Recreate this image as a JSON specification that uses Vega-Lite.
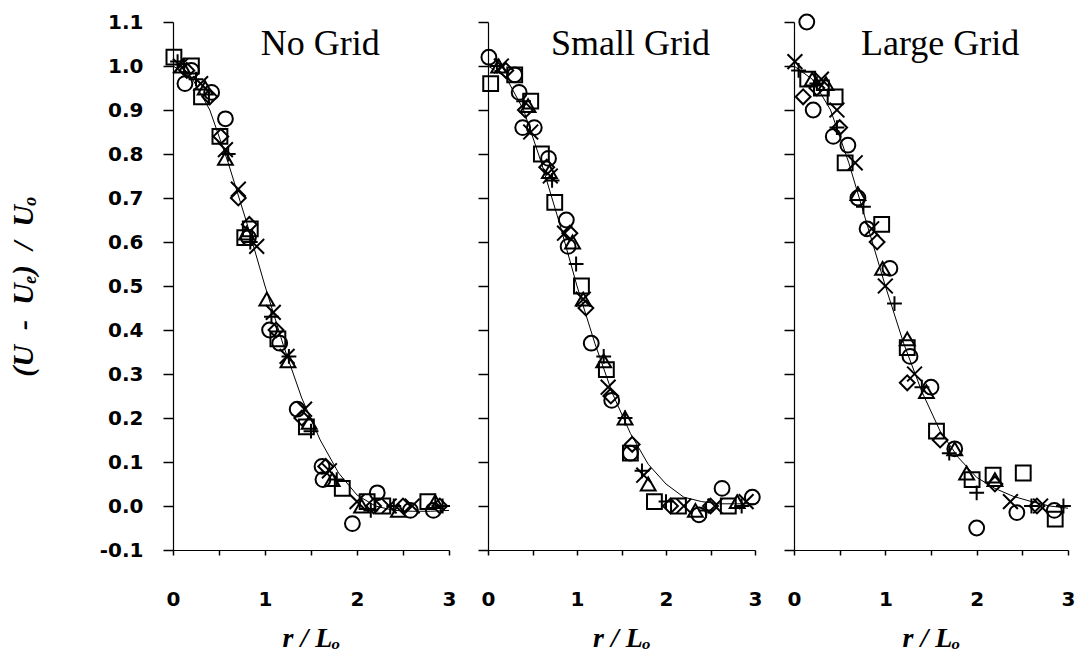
{
  "$schema": "https://vega.github.io/schema/vega-lite/v6.json",
  "background": "white",
  "padding": {"left": 8, "top": 10, "right": 0, "bottom": 2},
  "bounds": "flush",
  "spacing": 39,
  "config": {
    "view": {"stroke": null},
    "axis": {
      "grid": false,
      "domainColor": "black",
      "domainWidth": 1.2,
      "tickColor": "black",
      "tickWidth": 1.5,
      "labelColor": "black",
      "titleColor": "black",
      "labelFont": "DejaVu Sans",
      "labelFontWeight": "bold",
      "labelFontSize": 20,
      "titleFont": "Liberation Serif, DejaVu Serif, serif",
      "titleFontStyle": "italic",
      "titleFontWeight": "bold"
    }
  },
  "datasets": {
    "pts": [
      {"panel": "No Grid", "series": "circle", "r": 0.13, "v": 0.96},
      {"panel": "No Grid", "series": "circle", "r": 0.2, "v": 0.99},
      {"panel": "No Grid", "series": "circle", "r": 0.42, "v": 0.94},
      {"panel": "No Grid", "series": "circle", "r": 0.57, "v": 0.88},
      {"panel": "No Grid", "series": "circle", "r": 0.82, "v": 0.61},
      {"panel": "No Grid", "series": "circle", "r": 1.05, "v": 0.40},
      {"panel": "No Grid", "series": "circle", "r": 1.16, "v": 0.37},
      {"panel": "No Grid", "series": "circle", "r": 1.35, "v": 0.22},
      {"panel": "No Grid", "series": "circle", "r": 1.62, "v": 0.09},
      {"panel": "No Grid", "series": "circle", "r": 1.63, "v": 0.06},
      {"panel": "No Grid", "series": "circle", "r": 1.95, "v": -0.04},
      {"panel": "No Grid", "series": "circle", "r": 2.22, "v": 0.03},
      {"panel": "No Grid", "series": "circle", "r": 2.58, "v": -0.01},
      {"panel": "No Grid", "series": "circle", "r": 2.83, "v": -0.01},
      {"panel": "No Grid", "series": "square", "r": 0.01, "v": 1.02},
      {"panel": "No Grid", "series": "square", "r": 0.2, "v": 1.0},
      {"panel": "No Grid", "series": "square", "r": 0.31, "v": 0.93},
      {"panel": "No Grid", "series": "square", "r": 0.51, "v": 0.84},
      {"panel": "No Grid", "series": "square", "r": 0.78, "v": 0.61},
      {"panel": "No Grid", "series": "square", "r": 0.84, "v": 0.63},
      {"panel": "No Grid", "series": "square", "r": 1.14, "v": 0.38},
      {"panel": "No Grid", "series": "square", "r": 1.45, "v": 0.18},
      {"panel": "No Grid", "series": "square", "r": 1.84, "v": 0.04},
      {"panel": "No Grid", "series": "square", "r": 2.11, "v": 0.01},
      {"panel": "No Grid", "series": "square", "r": 2.28, "v": 0.0},
      {"panel": "No Grid", "series": "square", "r": 2.77, "v": 0.01},
      {"panel": "No Grid", "series": "triangle", "r": 0.1, "v": 1.0},
      {"panel": "No Grid", "series": "triangle", "r": 0.35, "v": 0.95},
      {"panel": "No Grid", "series": "triangle", "r": 0.57, "v": 0.79},
      {"panel": "No Grid", "series": "triangle", "r": 0.8, "v": 0.62},
      {"panel": "No Grid", "series": "triangle", "r": 1.02, "v": 0.47},
      {"panel": "No Grid", "series": "triangle", "r": 1.25, "v": 0.33},
      {"panel": "No Grid", "series": "triangle", "r": 1.48, "v": 0.19},
      {"panel": "No Grid", "series": "triangle", "r": 1.73, "v": 0.06},
      {"panel": "No Grid", "series": "triangle", "r": 2.05, "v": 0.0},
      {"panel": "No Grid", "series": "triangle", "r": 2.45, "v": -0.01},
      {"panel": "No Grid", "series": "triangle", "r": 2.85, "v": 0.01},
      {"panel": "No Grid", "series": "diamond", "r": 0.15, "v": 0.99},
      {"panel": "No Grid", "series": "diamond", "r": 0.4, "v": 0.93},
      {"panel": "No Grid", "series": "diamond", "r": 0.52, "v": 0.84},
      {"panel": "No Grid", "series": "diamond", "r": 0.71, "v": 0.70},
      {"panel": "No Grid", "series": "diamond", "r": 0.83, "v": 0.64},
      {"panel": "No Grid", "series": "diamond", "r": 1.12, "v": 0.40},
      {"panel": "No Grid", "series": "diamond", "r": 1.4, "v": 0.20},
      {"panel": "No Grid", "series": "diamond", "r": 1.66, "v": 0.09},
      {"panel": "No Grid", "series": "diamond", "r": 2.18, "v": 0.0},
      {"panel": "No Grid", "series": "diamond", "r": 2.5, "v": 0.0},
      {"panel": "No Grid", "series": "diamond", "r": 2.9, "v": 0.0},
      {"panel": "No Grid", "series": "x", "r": 0.08, "v": 1.0},
      {"panel": "No Grid", "series": "x", "r": 0.3, "v": 0.96},
      {"panel": "No Grid", "series": "x", "r": 0.57, "v": 0.81},
      {"panel": "No Grid", "series": "x", "r": 0.71, "v": 0.72},
      {"panel": "No Grid", "series": "x", "r": 0.91, "v": 0.59},
      {"panel": "No Grid", "series": "x", "r": 1.09, "v": 0.44},
      {"panel": "No Grid", "series": "x", "r": 1.24, "v": 0.34},
      {"panel": "No Grid", "series": "x", "r": 1.43, "v": 0.22},
      {"panel": "No Grid", "series": "x", "r": 1.7, "v": 0.08},
      {"panel": "No Grid", "series": "x", "r": 2.0, "v": 0.01},
      {"panel": "No Grid", "series": "x", "r": 2.35, "v": 0.0},
      {"panel": "No Grid", "series": "x", "r": 2.6, "v": 0.0},
      {"panel": "No Grid", "series": "plus", "r": 0.05, "v": 1.01},
      {"panel": "No Grid", "series": "plus", "r": 0.25, "v": 0.97},
      {"panel": "No Grid", "series": "plus", "r": 0.6, "v": 0.80},
      {"panel": "No Grid", "series": "plus", "r": 0.84, "v": 0.60},
      {"panel": "No Grid", "series": "plus", "r": 1.07, "v": 0.43},
      {"panel": "No Grid", "series": "plus", "r": 1.26, "v": 0.34},
      {"panel": "No Grid", "series": "plus", "r": 1.5, "v": 0.17},
      {"panel": "No Grid", "series": "plus", "r": 1.78, "v": 0.06},
      {"panel": "No Grid", "series": "plus", "r": 2.15, "v": -0.01},
      {"panel": "No Grid", "series": "plus", "r": 2.4, "v": 0.0},
      {"panel": "No Grid", "series": "plus", "r": 2.93, "v": 0.0},

      {"panel": "Small Grid", "series": "circle", "r": 0.01, "v": 1.02},
      {"panel": "Small Grid", "series": "circle", "r": 0.3, "v": 0.98},
      {"panel": "Small Grid", "series": "circle", "r": 0.35, "v": 0.94},
      {"panel": "Small Grid", "series": "circle", "r": 0.39, "v": 0.86},
      {"panel": "Small Grid", "series": "circle", "r": 0.52, "v": 0.86},
      {"panel": "Small Grid", "series": "circle", "r": 0.68, "v": 0.79},
      {"panel": "Small Grid", "series": "circle", "r": 0.88, "v": 0.65},
      {"panel": "Small Grid", "series": "circle", "r": 0.9, "v": 0.59},
      {"panel": "Small Grid", "series": "circle", "r": 1.16, "v": 0.37},
      {"panel": "Small Grid", "series": "circle", "r": 1.39, "v": 0.24},
      {"panel": "Small Grid", "series": "circle", "r": 1.6, "v": 0.12},
      {"panel": "Small Grid", "series": "circle", "r": 2.37, "v": -0.02},
      {"panel": "Small Grid", "series": "circle", "r": 2.63, "v": 0.04},
      {"panel": "Small Grid", "series": "circle", "r": 2.97, "v": 0.02},
      {"panel": "Small Grid", "series": "square", "r": 0.03, "v": 0.96},
      {"panel": "Small Grid", "series": "square", "r": 0.3, "v": 0.98},
      {"panel": "Small Grid", "series": "square", "r": 0.48, "v": 0.92},
      {"panel": "Small Grid", "series": "square", "r": 0.6, "v": 0.80},
      {"panel": "Small Grid", "series": "square", "r": 0.75, "v": 0.69},
      {"panel": "Small Grid", "series": "square", "r": 1.05, "v": 0.50},
      {"panel": "Small Grid", "series": "square", "r": 1.33, "v": 0.31},
      {"panel": "Small Grid", "series": "square", "r": 1.6, "v": 0.12},
      {"panel": "Small Grid", "series": "square", "r": 1.87, "v": 0.01},
      {"panel": "Small Grid", "series": "square", "r": 2.14, "v": 0.0},
      {"panel": "Small Grid", "series": "square", "r": 2.7, "v": 0.0},
      {"panel": "Small Grid", "series": "triangle", "r": 0.12, "v": 1.0},
      {"panel": "Small Grid", "series": "triangle", "r": 0.45, "v": 0.91},
      {"panel": "Small Grid", "series": "triangle", "r": 0.69, "v": 0.76},
      {"panel": "Small Grid", "series": "triangle", "r": 0.95, "v": 0.60},
      {"panel": "Small Grid", "series": "triangle", "r": 1.07, "v": 0.47},
      {"panel": "Small Grid", "series": "triangle", "r": 1.3, "v": 0.33},
      {"panel": "Small Grid", "series": "triangle", "r": 1.54, "v": 0.20},
      {"panel": "Small Grid", "series": "triangle", "r": 1.8, "v": 0.05},
      {"panel": "Small Grid", "series": "triangle", "r": 2.33, "v": -0.01},
      {"panel": "Small Grid", "series": "triangle", "r": 2.8, "v": 0.01},
      {"panel": "Small Grid", "series": "diamond", "r": 0.2, "v": 0.99},
      {"panel": "Small Grid", "series": "diamond", "r": 0.42, "v": 0.90},
      {"panel": "Small Grid", "series": "diamond", "r": 0.66, "v": 0.77},
      {"panel": "Small Grid", "series": "diamond", "r": 0.92, "v": 0.62},
      {"panel": "Small Grid", "series": "diamond", "r": 1.1, "v": 0.45},
      {"panel": "Small Grid", "series": "diamond", "r": 1.38, "v": 0.25},
      {"panel": "Small Grid", "series": "diamond", "r": 1.62, "v": 0.14},
      {"panel": "Small Grid", "series": "diamond", "r": 2.05, "v": 0.0},
      {"panel": "Small Grid", "series": "diamond", "r": 2.5, "v": 0.0},
      {"panel": "Small Grid", "series": "x", "r": 0.15, "v": 1.0},
      {"panel": "Small Grid", "series": "x", "r": 0.48, "v": 0.85},
      {"panel": "Small Grid", "series": "x", "r": 0.7, "v": 0.75},
      {"panel": "Small Grid", "series": "x", "r": 0.86, "v": 0.62},
      {"panel": "Small Grid", "series": "x", "r": 1.07, "v": 0.47},
      {"panel": "Small Grid", "series": "x", "r": 1.35, "v": 0.27},
      {"panel": "Small Grid", "series": "x", "r": 1.75, "v": 0.07},
      {"panel": "Small Grid", "series": "x", "r": 2.2, "v": 0.0},
      {"panel": "Small Grid", "series": "x", "r": 2.55, "v": 0.0},
      {"panel": "Small Grid", "series": "x", "r": 2.9, "v": 0.01},
      {"panel": "Small Grid", "series": "plus", "r": 0.1, "v": 1.0},
      {"panel": "Small Grid", "series": "plus", "r": 0.4, "v": 0.92},
      {"panel": "Small Grid", "series": "plus", "r": 0.72, "v": 0.74},
      {"panel": "Small Grid", "series": "plus", "r": 0.99, "v": 0.55},
      {"panel": "Small Grid", "series": "plus", "r": 1.3, "v": 0.34},
      {"panel": "Small Grid", "series": "plus", "r": 1.54, "v": 0.20},
      {"panel": "Small Grid", "series": "plus", "r": 1.73, "v": 0.08},
      {"panel": "Small Grid", "series": "plus", "r": 2.0, "v": 0.01},
      {"panel": "Small Grid", "series": "plus", "r": 2.45, "v": -0.01},
      {"panel": "Small Grid", "series": "plus", "r": 2.85, "v": 0.0},

      {"panel": "Large Grid", "series": "circle", "r": 0.14, "v": 1.1},
      {"panel": "Large Grid", "series": "circle", "r": 0.21, "v": 0.90},
      {"panel": "Large Grid", "series": "circle", "r": 0.43, "v": 0.84},
      {"panel": "Large Grid", "series": "circle", "r": 0.59, "v": 0.82},
      {"panel": "Large Grid", "series": "circle", "r": 0.7, "v": 0.70},
      {"panel": "Large Grid", "series": "circle", "r": 0.8, "v": 0.63},
      {"panel": "Large Grid", "series": "circle", "r": 1.05, "v": 0.54},
      {"panel": "Large Grid", "series": "circle", "r": 1.27, "v": 0.34},
      {"panel": "Large Grid", "series": "circle", "r": 1.5, "v": 0.27},
      {"panel": "Large Grid", "series": "circle", "r": 1.76, "v": 0.13},
      {"panel": "Large Grid", "series": "circle", "r": 2.0, "v": -0.05},
      {"panel": "Large Grid", "series": "circle", "r": 2.44, "v": -0.015},
      {"panel": "Large Grid", "series": "circle", "r": 2.85, "v": -0.01},
      {"panel": "Large Grid", "series": "square", "r": 0.15, "v": 0.97},
      {"panel": "Large Grid", "series": "square", "r": 0.3, "v": 0.95},
      {"panel": "Large Grid", "series": "square", "r": 0.45, "v": 0.93},
      {"panel": "Large Grid", "series": "square", "r": 0.56, "v": 0.78},
      {"panel": "Large Grid", "series": "square", "r": 0.96, "v": 0.64},
      {"panel": "Large Grid", "series": "square", "r": 1.24, "v": 0.36},
      {"panel": "Large Grid", "series": "square", "r": 1.56, "v": 0.17},
      {"panel": "Large Grid", "series": "square", "r": 1.95, "v": 0.06},
      {"panel": "Large Grid", "series": "square", "r": 2.18, "v": 0.07},
      {"panel": "Large Grid", "series": "square", "r": 2.51, "v": 0.075},
      {"panel": "Large Grid", "series": "square", "r": 2.86, "v": -0.03},
      {"panel": "Large Grid", "series": "triangle", "r": 0.2, "v": 0.97},
      {"panel": "Large Grid", "series": "triangle", "r": 0.35, "v": 0.96},
      {"panel": "Large Grid", "series": "triangle", "r": 0.7, "v": 0.71},
      {"panel": "Large Grid", "series": "triangle", "r": 0.97, "v": 0.54},
      {"panel": "Large Grid", "series": "triangle", "r": 1.24, "v": 0.38},
      {"panel": "Large Grid", "series": "triangle", "r": 1.45, "v": 0.26},
      {"panel": "Large Grid", "series": "triangle", "r": 1.76, "v": 0.13},
      {"panel": "Large Grid", "series": "triangle", "r": 1.89, "v": 0.075},
      {"panel": "Large Grid", "series": "triangle", "r": 2.2, "v": 0.06},
      {"panel": "Large Grid", "series": "diamond", "r": 0.1, "v": 0.93},
      {"panel": "Large Grid", "series": "diamond", "r": 0.25, "v": 0.95},
      {"panel": "Large Grid", "series": "diamond", "r": 0.5, "v": 0.86},
      {"panel": "Large Grid", "series": "diamond", "r": 0.91, "v": 0.60},
      {"panel": "Large Grid", "series": "diamond", "r": 1.24, "v": 0.28},
      {"panel": "Large Grid", "series": "diamond", "r": 1.6, "v": 0.15},
      {"panel": "Large Grid", "series": "diamond", "r": 2.2, "v": 0.05},
      {"panel": "Large Grid", "series": "diamond", "r": 2.66, "v": 0.0},
      {"panel": "Large Grid", "series": "x", "r": 0.01, "v": 1.01},
      {"panel": "Large Grid", "series": "x", "r": 0.3, "v": 0.97},
      {"panel": "Large Grid", "series": "x", "r": 0.47, "v": 0.90},
      {"panel": "Large Grid", "series": "x", "r": 0.67, "v": 0.78},
      {"panel": "Large Grid", "series": "x", "r": 0.85, "v": 0.63},
      {"panel": "Large Grid", "series": "x", "r": 1.0, "v": 0.50},
      {"panel": "Large Grid", "series": "x", "r": 1.32, "v": 0.30},
      {"panel": "Large Grid", "series": "x", "r": 2.37, "v": 0.01},
      {"panel": "Large Grid", "series": "x", "r": 2.7, "v": 0.0},
      {"panel": "Large Grid", "series": "plus", "r": 0.05, "v": 0.99},
      {"panel": "Large Grid", "series": "plus", "r": 0.25, "v": 0.96},
      {"panel": "Large Grid", "series": "plus", "r": 0.47, "v": 0.86},
      {"panel": "Large Grid", "series": "plus", "r": 0.76, "v": 0.68},
      {"panel": "Large Grid", "series": "plus", "r": 1.1, "v": 0.46},
      {"panel": "Large Grid", "series": "plus", "r": 1.4, "v": 0.27},
      {"panel": "Large Grid", "series": "plus", "r": 1.7, "v": 0.12},
      {"panel": "Large Grid", "series": "plus", "r": 2.0, "v": 0.03},
      {"panel": "Large Grid", "series": "plus", "r": 2.6, "v": 0.0},
      {"panel": "Large Grid", "series": "plus", "r": 2.95, "v": 0.0}
    ],
    "fit": [
      {"panel": "No Grid", "r": 0.0, "v": 1.0},
      {"panel": "No Grid", "r": 0.2, "v": 0.975},
      {"panel": "No Grid", "r": 0.4, "v": 0.9},
      {"panel": "No Grid", "r": 0.6, "v": 0.78},
      {"panel": "No Grid", "r": 0.8, "v": 0.645},
      {"panel": "No Grid", "r": 1.0, "v": 0.5},
      {"panel": "No Grid", "r": 1.2, "v": 0.365},
      {"panel": "No Grid", "r": 1.4, "v": 0.245},
      {"panel": "No Grid", "r": 1.6, "v": 0.15},
      {"panel": "No Grid", "r": 1.8, "v": 0.075},
      {"panel": "No Grid", "r": 2.0, "v": 0.025},
      {"panel": "No Grid", "r": 2.2, "v": 0.0},
      {"panel": "No Grid", "r": 2.4, "v": -0.01},
      {"panel": "No Grid", "r": 2.6, "v": -0.012},
      {"panel": "No Grid", "r": 2.8, "v": -0.012},
      {"panel": "No Grid", "r": 3.0, "v": -0.01},
      {"panel": "Small Grid", "r": 0.0, "v": 1.0},
      {"panel": "Small Grid", "r": 0.2, "v": 0.975},
      {"panel": "Small Grid", "r": 0.4, "v": 0.9},
      {"panel": "Small Grid", "r": 0.6, "v": 0.78},
      {"panel": "Small Grid", "r": 0.8, "v": 0.645},
      {"panel": "Small Grid", "r": 1.0, "v": 0.5},
      {"panel": "Small Grid", "r": 1.2, "v": 0.37},
      {"panel": "Small Grid", "r": 1.4, "v": 0.255},
      {"panel": "Small Grid", "r": 1.6, "v": 0.165},
      {"panel": "Small Grid", "r": 1.8, "v": 0.095},
      {"panel": "Small Grid", "r": 2.0, "v": 0.05},
      {"panel": "Small Grid", "r": 2.2, "v": 0.02},
      {"panel": "Small Grid", "r": 2.4, "v": 0.01},
      {"panel": "Small Grid", "r": 2.6, "v": 0.005},
      {"panel": "Small Grid", "r": 2.8, "v": 0.005},
      {"panel": "Small Grid", "r": 3.0, "v": 0.005},
      {"panel": "Large Grid", "r": 0.0, "v": 1.0},
      {"panel": "Large Grid", "r": 0.2, "v": 0.97},
      {"panel": "Large Grid", "r": 0.4, "v": 0.9},
      {"panel": "Large Grid", "r": 0.6, "v": 0.78},
      {"panel": "Large Grid", "r": 0.8, "v": 0.64},
      {"panel": "Large Grid", "r": 1.0, "v": 0.5},
      {"panel": "Large Grid", "r": 1.2, "v": 0.37},
      {"panel": "Large Grid", "r": 1.4, "v": 0.26},
      {"panel": "Large Grid", "r": 1.6, "v": 0.17},
      {"panel": "Large Grid", "r": 1.8, "v": 0.11},
      {"panel": "Large Grid", "r": 2.0, "v": 0.065},
      {"panel": "Large Grid", "r": 2.2, "v": 0.04},
      {"panel": "Large Grid", "r": 2.4, "v": 0.022},
      {"panel": "Large Grid", "r": 2.6, "v": 0.01},
      {"panel": "Large Grid", "r": 2.8, "v": 0.0},
      {"panel": "Large Grid", "r": 3.0, "v": -0.005}
    ],
    "names": [
      {"panel": "No Grid"},
      {"panel": "Small Grid"},
      {"panel": "Large Grid"}
    ]
  },
  "hconcat": [
    {
      "width": 276,
      "height": 528,
      "layer": [
        {
          "data": {"name": "fit"},
          "transform": [{"filter": "datum.panel === 'No Grid'"}],
          "mark": {"type": "line", "color": "black", "strokeWidth": 1},
          "encoding": {
            "x": {"field": "r", "type": "quantitative", "scale": {"domain": [0, 3], "nice": false},
              "axis": {"values": [0, 0.5, 1, 1.5, 2, 2.5, 3], "labelExpr": "datum.value % 1 === 0 ? format(datum.value, 'd') : ''", "labelFlush": false, "tickSize": 5, "labelPadding": 34, "title": "r / Lₒ", "titleFontSize": 28, "titlePadding": 15}},
            "y": {"field": "v", "type": "quantitative", "scale": {"domain": [-0.1, 1.1], "nice": false, "zero": false},
              "axis": {"values": [-0.1, -0.05, 0, 0.05, 0.1, 0.15, 0.2, 0.25, 0.3, 0.35, 0.4, 0.45, 0.5, 0.55, 0.6, 0.65, 0.7, 0.75, 0.8, 0.85, 0.9, 0.95, 1.0, 1.05, 1.1],
                "labelExpr": "abs(datum.value * 10 - round(datum.value * 10)) > 0.01 ? '' : (datum.value < 0 ? '-' + format(-datum.value, '.1f') : format(datum.value, '.1f'))",
                "tickSize": {"condition": {"test": "abs(datum.value * 10 - round(datum.value * 10)) > 0.01", "value": 5}, "value": 10},
                "labelPadding": 20, "title": "(U\u00a0\u00a0-\u00a0\u00a0Uₑ)\u00a0\u00a0/\u00a0\u00a0Uₒ", "titleFontSize": 30, "titlePadding": 61}}
          }
        },
        {
          "data": {"name": "pts"},
          "transform": [{"filter": "datum.panel === 'No Grid'"}],
          "mark": {"type": "point", "filled": false, "color": "black", "opacity": 1, "strokeWidth": 2, "size": 220},
          "encoding": {
            "x": {"field": "r", "type": "quantitative"},
            "y": {"field": "v", "type": "quantitative"},
            "shape": {"field": "series", "type": "nominal", "legend": null,
              "scale": {"domain": ["circle", "square", "triangle", "diamond", "x", "plus"],
                "range": ["circle", "square", "triangle-up", "diamond", "M-1,-1L1,1M-1,1L1,-1", "M-1,0L1,0M0,-1L0,1"]}}
          }
        },
        {
          "data": {"name": "names"},
          "transform": [{"filter": "datum.panel === 'No Grid'"}],
          "mark": {"type": "text", "font": "Liberation Serif", "fontSize": 36, "align": "center", "baseline": "alphabetic", "color": "black"},
          "encoding": {
            "x": {"datum": 1.6},
            "y": {"datum": 1.025},
            "text": {"field": "panel"}
          }
        }
      ]
    },
    {
      "width": 267,
      "height": 528,
      "layer": [
        {
          "data": {"name": "fit"},
          "transform": [{"filter": "datum.panel === 'Small Grid'"}],
          "mark": {"type": "line", "color": "black", "strokeWidth": 1},
          "encoding": {
            "x": {"field": "r", "type": "quantitative", "scale": {"domain": [0, 3], "nice": false},
              "axis": {"values": [0, 0.5, 1, 1.5, 2, 2.5, 3], "labelExpr": "datum.value % 1 === 0 ? format(datum.value, 'd') : ''", "labelFlush": false, "tickSize": 5, "labelPadding": 34, "title": "r / Lₒ", "titleFontSize": 28, "titlePadding": 15}},
            "y": {"field": "v", "type": "quantitative", "scale": {"domain": [-0.1, 1.1], "nice": false, "zero": false},
              "axis": {"values": [-0.1, -0.05, 0, 0.05, 0.1, 0.15, 0.2, 0.25, 0.3, 0.35, 0.4, 0.45, 0.5, 0.55, 0.6, 0.65, 0.7, 0.75, 0.8, 0.85, 0.9, 0.95, 1.0, 1.05, 1.1],
                "labels": false,
                "tickSize": {"condition": {"test": "abs(datum.value * 10 - round(datum.value * 10)) > 0.01", "value": 5}, "value": 10},
                "title": null}}
          }
        },
        {
          "data": {"name": "pts"},
          "transform": [{"filter": "datum.panel === 'Small Grid'"}],
          "mark": {"type": "point", "filled": false, "color": "black", "opacity": 1, "strokeWidth": 2, "size": 220},
          "encoding": {
            "x": {"field": "r", "type": "quantitative"},
            "y": {"field": "v", "type": "quantitative"},
            "shape": {"field": "series", "type": "nominal", "legend": null,
              "scale": {"domain": ["circle", "square", "triangle", "diamond", "x", "plus"],
                "range": ["circle", "square", "triangle-up", "diamond", "M-1,-1L1,1M-1,1L1,-1", "M-1,0L1,0M0,-1L0,1"]}}
          }
        },
        {
          "data": {"name": "names"},
          "transform": [{"filter": "datum.panel === 'Small Grid'"}],
          "mark": {"type": "text", "font": "Liberation Serif", "fontSize": 36, "align": "center", "baseline": "alphabetic", "color": "black"},
          "encoding": {
            "x": {"datum": 1.6},
            "y": {"datum": 1.025},
            "text": {"field": "panel"}
          }
        }
      ]
    },
    {
      "width": 274,
      "height": 528,
      "layer": [
        {
          "data": {"name": "fit"},
          "transform": [{"filter": "datum.panel === 'Large Grid'"}],
          "mark": {"type": "line", "color": "black", "strokeWidth": 1},
          "encoding": {
            "x": {"field": "r", "type": "quantitative", "scale": {"domain": [0, 3], "nice": false},
              "axis": {"values": [0, 0.5, 1, 1.5, 2, 2.5, 3], "labelExpr": "datum.value % 1 === 0 ? format(datum.value, 'd') : ''", "labelFlush": false, "tickSize": 5, "labelPadding": 34, "title": "r / Lₒ", "titleFontSize": 28, "titlePadding": 15}},
            "y": {"field": "v", "type": "quantitative", "scale": {"domain": [-0.1, 1.1], "nice": false, "zero": false},
              "axis": {"values": [-0.1, -0.05, 0, 0.05, 0.1, 0.15, 0.2, 0.25, 0.3, 0.35, 0.4, 0.45, 0.5, 0.55, 0.6, 0.65, 0.7, 0.75, 0.8, 0.85, 0.9, 0.95, 1.0, 1.05, 1.1],
                "labels": false,
                "tickSize": {"condition": {"test": "abs(datum.value * 10 - round(datum.value * 10)) > 0.01", "value": 5}, "value": 10},
                "title": null}}
          }
        },
        {
          "data": {"name": "pts"},
          "transform": [{"filter": "datum.panel === 'Large Grid'"}],
          "mark": {"type": "point", "filled": false, "color": "black", "opacity": 1, "strokeWidth": 2, "size": 220},
          "encoding": {
            "x": {"field": "r", "type": "quantitative"},
            "y": {"field": "v", "type": "quantitative"},
            "shape": {"field": "series", "type": "nominal", "legend": null,
              "scale": {"domain": ["circle", "square", "triangle", "diamond", "x", "plus"],
                "range": ["circle", "square", "triangle-up", "diamond", "M-1,-1L1,1M-1,1L1,-1", "M-1,0L1,0M0,-1L0,1"]}}
          }
        },
        {
          "data": {"name": "names"},
          "transform": [{"filter": "datum.panel === 'Large Grid'"}],
          "mark": {"type": "text", "font": "Liberation Serif", "fontSize": 36, "align": "center", "baseline": "alphabetic", "color": "black"},
          "encoding": {
            "x": {"datum": 1.6},
            "y": {"datum": 1.025},
            "text": {"field": "panel"}
          }
        }
      ]
    }
  ]
}
